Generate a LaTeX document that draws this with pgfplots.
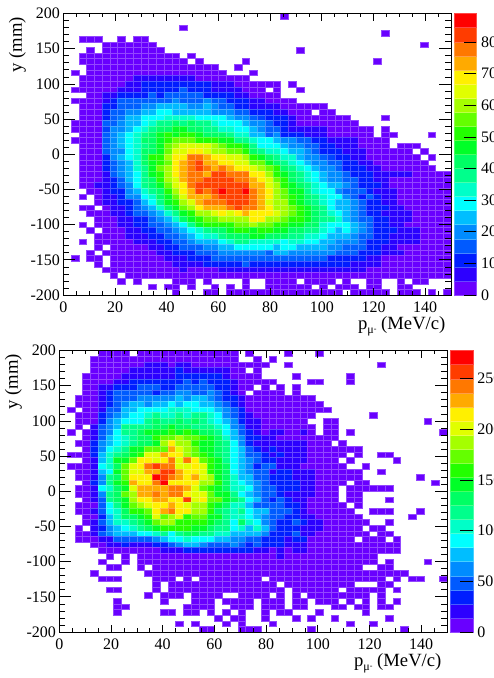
\documentclass[border=0pt]{standalone}
\usepackage{fontspec}
\setmainfont{Liberation Serif}
\usepackage{pgfplots}
\pgfplotsset{compat=1.18}
\usepackage{pgfplotstable}
\pgfdeclareplotmark{cell}{\pgfpathrectangle{\pgfqpoint{-2.91pt}{-2.11pt}}{\pgfqpoint{5.82pt}{4.22pt}}\pgfusepathqfillstroke}
\pgfdeclareplotmark{barcell}{\pgfpathrectangle{\pgfqpoint{-8.5pt}{-5.28pt}}{\pgfqpoint{17pt}{10.56pt}}\pgfusepathqfillstroke}
\pgfplotsset{
  colormap={rootp}{rgb255=(105,0,255) rgb255=(45,0,255) rgb255=(0,30,255) rgb255=(0,90,255) rgb255=(0,140,255) rgb255=(0,190,255) rgb255=(0,255,255) rgb255=(0,255,200) rgb255=(0,255,140) rgb255=(0,255,100) rgb255=(0,255,40) rgb255=(35,255,0) rgb255=(100,255,0) rgb255=(165,255,0) rgb255=(225,255,0) rgb255=(255,240,0) rgb255=(255,170,0) rgb255=(255,120,0) rgb255=(255,60,0) rgb255=(255,0,0)},
  colormap name=rootp,
  frame/.style={scale only axis, width=290.8pt, height=211.1pt, xmin=0, xmax=150, ymin=-200, ymax=200,
    tick align=inside, axis line style={line width=0.6pt},
    tick style={black, line width=0.5pt},
    tick label style={font=\fontsize{12}{12}\selectfont},
    /pgf/number format/assume math mode=true, /pgf/number format/1000 sep={}},
  hist/.style={frame, hide axis},
  xframe/.style={frame, xtick distance=20, minor x tick num=3, ytick=\empty, major tick length=5.5pt, minor tick length=2.8pt,
    xticklabel style={yshift=-1.5pt},
    every axis x label/.style={at={(rel axis cs:1,0)}, anchor=base east, yshift=-26pt, xshift=-0.7pt, font=\fontsize{14}{14}\selectfont}},
  yframe/.style={frame, ytick distance=50, minor y tick num=4, xtick=\empty, major tick length=9pt, minor tick length=4.5pt,
    yticklabel style={xshift=1pt},
    every axis y label/.style={at={(rel axis cs:0,1)}, rotate=90, anchor=base east, yshift=31pt, xshift=0.8pt, font=\fontsize{14}{14}\selectfont}},
  cells/.style={scatter, only marks, mark=cell, forget plot, line width=0.25pt, point meta=explicit,
    scatter/use mapped color={draw=mapped color!72!white, fill=mapped color}},
  cbarfill/.style={scale only axis, width=17pt, xmin=0, xmax=1, height=211.1pt, ymin=0, hide axis,
    point meta min=0, point meta max=19},
  cbarticks/.style={scale only axis, width=17pt, xmin=0, xmax=1, height=211.1pt, ymin=0,
    xtick=\empty, ytick pos=right, tick align=inside, minor tick num=0, major tick length=9.5pt,
    axis line style={opacity=0}, tick style={black, opacity=1, line width=0.5pt},
    tick label style={font=\fontsize{12}{12}\selectfont, opacity=1},
    /pgf/number format/assume math mode=true}
}
\pgfplotstableread[header=false]{
196  0 0 0 0 0 0 0 0 0 0  0 0 0 0 0 0 0 0 0 0  0 0 0 0 0 0 0 0 2 0  0 0 0 0 0 0 0 0 0 0  0 0 0 0 0 0 0 0 0 0
180  0 0 0 0 0 0 0 0 0 0  0 0 0 0 0 2 0 0 0 0  0 0 0 0 0 0 0 0 0 0  0 0 0 0 0 0 0 0 0 0  0 0 0 0 0 0 0 0 0 0
172  0 0 0 0 0 0 0 0 0 0  0 0 0 0 0 0 0 0 0 0  0 0 0 0 0 0 0 0 0 0  0 0 0 0 0 0 0 0 0 0  0 2 0 0 0 0 0 0 0 0
164  0 0 2 2 2 0 0 2 0 2  2 0 0 0 0 0 0 0 0 0  0 0 0 0 0 0 0 0 0 0  0 0 0 0 0 0 0 0 0 0  0 0 0 0 0 0 0 0 0 0
156  0 0 0 0 0 2 2 2 2 2  2 2 0 0 0 0 0 0 0 0  0 0 0 0 0 0 0 0 0 0  0 0 0 0 0 0 0 0 0 0  0 0 0 0 0 0 2 0 0 0
148  0 0 0 2 0 2 2 2 2 2  2 2 2 0 0 0 0 0 0 0  0 0 0 0 0 0 0 0 0 0  2 0 0 0 0 0 0 0 0 0  0 0 0 0 0 0 0 0 0 0
140  0 0 2 2 2 2 2 2 2 2  2 2 2 2 2 0 2 0 0 0  0 0 0 0 0 0 0 0 0 0  0 0 0 0 0 0 0 0 0 0  0 0 0 0 0 0 0 0 0 0
132  0 0 2 2 2 2 2 2 2 2  2 2 2 2 2 2 0 2 0 0  0 0 0 2 0 0 0 0 0 0  0 0 0 0 0 0 0 0 0 0  2 0 0 0 0 0 0 0 0 0
124  0 0 0 2 2 2 2 2 2 2  2 2 2 2 2 2 2 2 2 2  0 0 2 0 0 0 0 0 0 0  0 0 0 0 0 0 0 0 0 0  0 0 0 0 0 0 0 0 0 0
116  0 2 0 2 2 2 2 2 2 2  2 2 2 2 2 2 2 2 2 2  2 0 0 0 2 0 0 0 0 0  0 0 0 0 0 0 0 0 0 0  0 0 0 0 0 0 0 0 0 0
108  0 0 2 2 2 2 2 2 2 7  7 7 7 7 7 7 7 2 2 2  2 2 2 2 0 0 0 0 0 0  0 0 0 0 0 0 0 0 0 0  0 0 0 0 0 0 0 0 0 0
100  0 0 2 2 2 2 2 2 7 7  11 11 11 11 11 11 11 11 11 7  7 7 2 2 2 2 2 2 0 2  0 0 0 0 0 0 0 0 0 0  0 0 0 0 0 0 0 0 0 0
92  0 2 2 2 2 2 2 7 7 7  11 11 11 11 11 16 11 11 11 7  7 7 7 2 2 2 0 2 0 0  2 0 0 0 0 0 0 0 0 0  0 0 0 0 0 0 0 0 0 0
84  0 0 0 2 2 7 7 11 11 11  11 16 11 16 16 16 16 16 11 11  11 11 7 7 2 2 2 2 0 0  0 0 0 0 0 0 0 0 0 0  0 0 0 0 0 0 0 0 0 0
76  0 2 2 2 2 7 11 16 16 16  16 16 16 16 20 16 16 16 20 16  16 11 11 11 7 7 2 2 2 2  0 0 0 0 0 0 0 0 0 0  0 0 0 0 0 0 0 0 0 0
68  0 0 2 2 2 11 11 16 16 16  20 20 24 24 24 24 20 20 24 20  16 16 11 11 7 7 7 7 2 2  2 2 2 2 0 0 0 0 0 0  0 0 0 0 0 0 0 0 0 0
60  0 0 2 2 2 11 16 16 20 20  24 24 29 29 24 24 24 24 24 20  20 20 16 16 11 11 11 7 7 2  2 2 0 2 2 0 0 0 0 0  0 0 0 0 0 0 0 0 0 0
52  0 0 2 2 2 11 16 18 24 24  29 29 29 33 33 33 33 29 29 29  29 24 20 20 16 14 11 11 11 7  2 2 2 2 2 2 2 0 0 0  0 2 0 0 0 0 0 0 0 0
44  0 2 2 2 2 16 16 20 24 24  29 33 38 38 42 38 42 38 38 33  29 29 29 24 20 20 16 11 11 7  2 2 2 2 2 2 2 2 0 0  0 0 0 0 0 0 0 0 0 0
36  0 2 2 2 2 14 20 20 24 29  33 38 42 42 47 47 42 42 38 38  33 33 29 29 24 20 16 16 11 7  7 7 7 7 2 2 2 2 2 2  0 2 0 0 0 0 0 0 0 0
28  0 0 2 2 2 16 20 24 29 33  38 42 47 51 47 51 51 47 42 42  42 38 33 33 24 24 16 20 11 11  11 7 7 7 2 2 2 2 2 2  0 2 2 0 0 0 0 2 0 0
20  0 2 2 2 2 16 20 24 29 33  42 42 47 51 56 56 56 51 51 51  47 47 38 38 33 29 29 24 20 20  16 16 11 11 7 7 7 7 2 2  2 2 0 0 0 0 0 0 0 0
12  0 0 2 2 2 16 20 24 29 33  38 42 47 56 60 64 64 64 64 60  56 51 51 47 38 29 29 29 24 20  20 16 16 11 11 7 7 7 2 2  2 2 0 2 2 2 0 0 0 0
4  0 0 2 2 2 16 20 20 29 33  42 42 47 56 64 64 69 69 64 60  60 56 56 51 42 38 33 33 29 24  24 20 16 11 11 11 7 7 7 2  2 2 2 2 2 0 2 0 0 0
-4  0 0 2 2 2 11 20 24 29 33  42 51 51 60 69 69 78 78 73 69  69 64 64 60 51 47 42 38 33 33  24 20 20 16 14 11 11 7 7 2  2 2 2 2 2 2 0 2 0 0
-12  0 0 2 2 2 11 16 20 24 33  42 47 51 56 69 73 78 82 73 73  69 69 64 64 56 56 47 42 38 33  29 24 20 20 16 16 11 11 7 7  2 2 2 2 2 2 2 0 0 0
-20  0 0 2 2 2 11 16 20 24 33  38 47 56 60 69 73 78 82 78 73  78 73 69 69 64 60 56 51 42 38  33 29 24 20 20 16 11 11 11 7  7 2 2 2 2 2 2 2 0 0
-28  0 0 2 2 2 7 16 20 24 29  38 47 51 60 69 73 78 78 73 82  82 78 78 78 69 69 60 51 47 42  38 33 29 24 20 20 16 11 11 11  7 7 7 7 7 2 2 2 2 2
-36  0 0 2 2 2 7 11 16 24 29  38 42 51 60 64 73 78 78 82 82  82 82 78 78 73 69 64 56 51 42  38 33 29 24 20 20 16 16 11 11  7 7 2 2 2 2 2 2 2 2
-44  0 0 2 2 7 7 11 16 20 29  38 42 47 56 64 69 78 82 82 82  82 82 82 82 73 73 64 60 51 47  42 38 33 29 24 24 20 16 11 11  11 7 2 2 2 2 2 2 2 2
-52  0 0 0 2 2 7 11 11 20 24  33 38 42 51 60 69 73 82 78 82  87 82 82 87 78 73 69 60 56 47  47 38 33 29 29 20 16 16 16 11  7 7 7 2 2 2 2 2 2 2
-60  0 0 2 0 2 7 7 11 20 20  29 33 42 47 56 64 73 73 73 78  82 82 82 82 78 73 69 60 56 51  47 42 38 33 29 29 20 16 11 16  11 7 7 2 2 2 2 2 2 2
-68  0 0 0 0 2 7 7 11 11 16  24 29 38 47 51 60 64 73 78 78  78 82 82 82 78 73 64 60 60 51  47 42 38 33 29 24 24 20 16 11  11 7 7 2 2 2 2 2 2 2
-76  0 0 2 2 0 2 7 7 11 16  20 24 33 42 47 56 60 69 73 73  73 78 82 78 78 73 69 60 60 56  51 47 42 38 29 24 24 20 16 11  11 11 7 7 2 2 2 2 2 2
-84  0 0 0 2 2 2 7 7 11 16  16 20 24 33 38 47 51 60 60 64  69 64 69 73 69 69 69 64 60 56  51 47 42 38 33 29 24 20 16 11  11 7 7 7 7 2 2 2 2 2
-92  0 0 0 0 2 2 2 7 7 11  11 16 20 24 33 42 47 51 56 56  60 60 60 60 69 69 60 60 56 51  51 47 42 38 38 33 24 20 16 16  11 11 7 7 7 2 2 2 2 2
-100  0 0 2 0 2 2 2 7 7 11  11 16 16 20 24 29 38 47 51 51  51 51 56 56 60 56 56 51 51 47  47 42 42 33 29 29 29 24 20 16  11 11 7 7 2 2 2 2 2 2
-108  0 0 0 2 0 2 2 2 7 7  11 11 16 16 20 24 29 33 38 42  42 47 51 51 47 51 51 47 47 42  42 38 38 33 29 24 29 24 20 16  11 11 11 7 7 7 2 2 2 2
-116  0 0 0 0 2 2 2 2 7 7  7 11 11 16 16 20 24 29 33 33  38 42 42 42 47 47 42 42 42 38  38 33 33 29 24 24 24 20 16 16  11 11 7 7 7 7 2 2 2 2
-124  0 0 2 0 2 2 2 2 2 7  7 7 11 11 16 16 20 24 24 24  29 33 38 38 33 33 33 33 29 33  33 29 29 24 24 20 20 20 16 11  11 11 7 7 7 7 2 2 2 2
-132  0 0 0 0 2 0 2 2 2 2  2 7 7 11 11 16 16 16 20 20  24 24 29 29 29 29 29 24 29 29  24 24 24 24 20 20 16 16 16 11  11 7 7 2 2 2 2 2 2 2
-140  0 0 0 2 0 2 2 2 2 2  2 2 7 7 11 11 11 16 16 16  20 20 20 20 20 20 16 24 24 20  20 20 20 20 20 16 16 16 11 11  11 7 7 7 2 2 2 2 2 2
-148  0 2 0 2 2 0 2 2 2 2  2 2 2 7 7 7 11 11 11 16  16 16 16 16 16 16 16 16 16 16  16 16 16 16 11 11 11 11 11 7  7 2 2 2 2 2 2 2 2 2
-156  0 0 0 0 2 0 2 2 2 2  2 2 2 2 7 7 7 7 11 11  11 11 11 16 11 11 11 11 11 11  11 11 11 11 11 11 11 7 7 7  7 2 2 2 2 2 2 2 2 2
-164  0 0 0 0 0 2 2 2 2 2  2 2 2 2 2 7 2 2 2 2  7 7 7 7 7 7 7 7 7 7  7 7 7 7 7 7 7 7 7 2  2 2 2 2 2 2 2 2 2 2
-172  0 0 0 0 0 0 2 0 2 2  2 2 2 2 2 2 2 2 2 2  2 2 2 2 2 2 2 2 2 2  2 2 2 2 2 2 2 2 2 2  2 2 2 2 2 2 2 2 2 2
-180  0 0 0 0 0 0 0 2 0 2  0 0 0 0 2 2 2 0 2 0  0 0 0 2 0 0 2 2 2 2  0 2 2 2 2 0 2 0 0 2  2 0 0 2 0 2 2 0 0 0
-188  0 0 0 0 0 0 0 0 0 0  0 2 0 2 2 0 2 0 0 2  0 2 0 2 0 0 2 2 2 2  2 2 0 2 0 2 2 2 0 2  2 0 0 2 2 0 0 0 0 0
-196  0 0 0 0 0 0 0 0 0 0  0 0 0 0 2 0 0 0 2 2  0 2 2 2 2 2 2 2 2 2  2 2 2 2 2 2 0 2 2 2  2 2 0 2 2 2 0 2 0 2
}\tabA
\pgfplotstableread[header=false]{
196  0 0 0 0 0 7 7 7 7 0  7 7 7 7 7 7 7 7 7 7  7 7 7 0 7 0 0 0 0 7  0 0 0 7 0 0 0 0 0 0  0 0 0 0 0 0 0 0 0 0
188  0 0 0 0 7 7 7 7 7 7  7 7 7 7 7 7 7 7 7 7  7 7 7 0 0 7 0 7 0 0  0 0 0 0 0 0 0 0 0 0  0 0 0 0 0 0 0 0 0 0
180  0 0 0 0 7 7 7 7 7 7  7 21 21 21 7 21 21 7 7 7  7 7 7 7 7 7 7 0 0 7  0 0 0 0 0 0 0 0 0 0  0 7 0 0 0 0 0 0 0 0
172  0 0 0 0 7 7 7 7 7 21  21 21 21 21 21 35 21 21 21 21  21 21 7 7 0 7 0 0 0 0  0 0 0 0 0 0 0 0 0 0  0 0 0 0 0 0 0 0 0 0
164  0 0 0 7 7 7 7 7 21 21  21 21 21 21 21 35 35 35 35 35  35 21 7 7 7 7 0 0 0 0  7 0 0 0 0 0 0 7 0 0  0 0 0 0 0 0 0 0 0 0
156  0 0 0 7 7 7 7 21 21 35  35 35 35 35 35 35 49 35 49 35  35 35 21 7 7 7 7 7 0 0  0 0 7 7 0 0 0 7 0 0  0 0 0 0 0 0 0 0 0 0
148  0 0 0 7 7 21 21 35 35 35  49 49 49 35 35 49 49 49 49 49  35 35 21 7 7 0 7 0 7 0  7 0 0 0 0 0 0 0 0 0  0 0 0 0 0 0 0 0 0 0
140  0 0 0 7 7 21 35 49 49 49  49 49 35 49 49 62 62 49 49 62  49 35 21 7 0 7 7 7 7 0  7 0 0 0 0 0 0 0 0 0  0 0 0 0 0 0 0 0 0 0
132  0 0 7 7 7 21 35 49 49 49  62 62 62 62 62 76 62 76 76 62  49 35 35 21 7 7 7 7 7 7  7 7 7 0 0 0 0 0 0 0  0 0 0 0 0 0 0 0 0 0
124  0 0 7 7 7 21 35 49 62 76  76 62 76 76 90 76 90 90 76 76  62 49 35 21 7 7 7 7 7 7  7 7 7 7 0 0 0 0 0 0  0 0 0 0 0 0 0 0 0 0
116  0 7 0 7 7 21 49 49 76 76  90 90 90 90 104 104 104 90 90 90  76 62 49 35 7 7 7 7 7 7  7 7 7 7 7 0 0 0 0 0  0 0 0 0 0 0 0 0 0 0
108  0 0 7 7 7 35 49 62 76 90  90 104 118 104 104 118 104 118 118 104  90 62 49 35 21 7 7 7 7 7  7 7 7 0 0 0 0 0 0 0  7 0 0 0 0 0 0 0 0 0
100  0 0 7 7 7 35 62 76 90 90  90 118 132 118 118 132 118 132 118 104  90 76 62 35 21 21 7 7 7 7  7 7 0 0 7 7 0 0 0 0  0 0 0 0 0 0 0 7 0 0
92  0 0 7 0 21 49 62 76 118 118  118 118 132 132 146 132 132 118 118 118  104 90 62 49 21 21 7 7 7 7  7 7 7 0 7 7 0 0 0 0  0 0 0 0 0 0 0 0 0 0
84  0 7 0 7 21 49 62 90 118 118  132 146 146 146 160 146 160 146 132 132  118 90 76 49 35 21 7 21 21 7  7 21 7 0 7 7 0 7 0 0  0 0 0 0 0 0 0 0 0 7
76  0 0 0 7 21 49 76 90 104 118  132 132 160 173 173 187 173 173 160 146  132 104 76 62 35 35 21 21 7 7  7 7 7 7 7 7 0 0 0 0  0 0 0 0 0 0 0 0 0 0
68  0 0 7 7 35 62 76 90 104 118  132 132 146 187 215 187 187 160 146 146  132 118 90 62 35 21 21 21 21 21  21 21 7 7 7 0 7 0 0 0  0 0 0 0 0 0 0 0 0 0
60  0 0 0 7 35 62 90 104 118 146  146 173 173 173 229 201 187 173 146 146  132 118 90 76 49 35 21 35 21 21  21 21 7 7 7 7 7 7 7 0  0 0 0 0 0 0 0 0 0 0
52  0 7 7 7 35 76 104 118 132 146  160 201 201 229 215 215 187 173 160 146  132 118 90 76 49 49 35 21 35 21  21 21 7 7 7 7 7 0 7 0  0 7 7 0 0 0 0 0 0 0
44  0 0 0 7 21 76 104 146 146 173  215 215 201 215 243 201 243 215 173 160  146 118 90 76 62 49 35 35 21 21  21 21 7 7 7 7 0 7 0 0  0 0 0 7 0 0 0 0 0 0
36  0 7 7 7 21 90 104 132 173 201  215 243 257 243 243 201 201 215 201 160  146 132 90 76 62 35 49 49 21 21  21 7 7 7 7 7 7 0 0 7  0 0 0 0 0 0 0 0 0 0
28  0 0 7 7 21 76 90 146 173 201  201 229 229 257 257 229 215 215 201 160  146 132 90 76 62 49 49 21 35 35  21 21 21 7 7 7 7 7 7 0  0 7 0 0 0 0 0 0 0 0
20  0 0 7 7 21 62 118 132 173 215  215 215 271 257 243 229 215 229 201 187  146 132 104 76 76 49 49 35 35 35  21 21 21 7 7 7 7 7 7 0  0 0 0 0 0 0 7 0 0 0
12  0 0 0 7 35 62 118 146 160 229  215 215 243 271 215 215 215 215 187 187  160 132 104 90 76 62 49 35 35 35  35 21 21 7 7 7 7 0 7 7  0 0 0 0 0 0 0 0 7 0
4  0 0 7 7 21 90 104 132 146 201  229 229 229 229 243 243 229 201 173 160  146 132 104 104 90 62 49 49 35 35  35 21 21 7 7 7 0 7 7 7  7 7 7 0 0 0 0 0 0 0
-4  0 0 7 7 21 62 118 132 173 187  229 229 243 229 243 243 215 201 201 173  146 146 118 90 76 62 49 49 35 21  21 21 21 7 7 7 0 7 7 0  0 0 0 0 0 0 0 0 0 0
-12  0 0 0 7 21 49 118 132 146 187  215 215 229 229 215 215 257 201 215 173  173 146 132 118 90 76 49 35 49 35  21 21 7 7 7 7 0 7 7 0  0 0 7 0 0 0 0 0 0 0
-20  0 0 7 7 7 49 90 118 146 173  187 201 215 215 229 215 201 187 187 160  146 132 104 104 76 49 49 49 49 35  35 21 7 7 7 7 7 0 7 0  0 0 0 0 0 0 0 0 0 0
-28  0 0 7 7 21 49 90 104 132 160  160 173 215 229 243 215 215 187 187 160  132 118 104 118 90 76 76 49 49 49  35 21 7 7 7 7 7 7 0 0  7 7 7 0 0 0 7 0 0 0
-36  0 0 0 7 7 35 76 104 132 132  146 160 201 173 187 201 160 173 173 146  146 118 104 104 90 76 62 49 49 35  35 21 21 7 7 7 7 7 7 0  0 0 0 0 0 7 0 0 0 0
-44  0 0 0 7 21 49 76 104 104 118  132 146 173 187 187 160 160 160 160 146  132 118 90 132 104 90 62 49 35 35  49 35 21 21 7 7 7 7 7 7  0 0 7 0 0 0 0 0 0 0
-52  0 0 7 0 21 35 62 76 90 104  118 132 146 160 160 160 160 146 146 132  118 118 90 104 76 104 76 49 35 35  35 21 21 21 7 7 7 7 7 0  7 7 0 0 0 0 0 0 0 0
-60  0 0 7 7 21 49 62 76 76 76  90 90 104 118 90 118 132 132 118 118  104 104 76 76 76 76 62 35 35 35  49 21 21 7 7 7 7 7 7 7  0 7 7 0 0 0 0 0 0 0
-68  0 0 7 7 7 21 21 49 49 49  49 49 62 76 90 90 104 90 90 90  76 76 62 62 49 49 35 35 35 21  35 35 7 7 7 7 7 7 0 7  7 7 0 7 0 0 0 0 0 0
-76  0 0 0 0 7 7 21 21 35 21  21 21 35 35 49 62 76 76 62 49  49 49 62 49 35 49 35 35 35 21  21 21 7 7 7 7 7 7 7 7  7 7 7 7 0 0 0 0 0 0
-84  0 0 0 0 0 7 7 7 7 7  7 7 7 21 21 21 35 35 35 35  35 35 35 35 35 21 21 7 21 7  21 21 7 7 7 7 7 7 7 7  7 7 7 7 0 0 0 0 0 0
-92  0 0 0 0 0 0 7 0 7 0  7 7 7 7 7 7 7 7 7 7  7 7 7 7 7 7 7 7 21 7  7 7 7 7 7 7 7 7 7 7  7 0 0 0 0 0 0 0 0 0
-100  0 0 0 0 0 7 0 0 7 0  7 7 7 7 7 7 7 7 7 7  7 7 7 7 7 7 7 7 7 7  7 7 7 7 7 7 7 7 7 7  7 0 7 0 0 0 0 7 0 0
-108  0 0 0 0 0 0 7 7 0 0  7 0 7 7 7 7 7 7 7 7  7 7 7 7 7 7 7 7 7 7  7 7 7 7 7 7 7 7 7 0  0 7 7 0 0 0 0 0 0 0
-116  0 0 0 0 7 0 0 0 0 0  0 7 7 7 7 7 7 7 7 7  7 7 7 7 7 7 7 7 7 7  7 7 7 7 7 7 7 7 7 7  7 7 7 7 7 0 0 0 0 0
-124  0 0 0 0 0 7 7 7 0 0  0 0 7 7 7 0 7 0 7 7  7 7 7 7 7 7 0 7 7 7  7 7 7 7 7 7 7 7 7 7  7 7 0 7 0 7 7 0 0 7
-132  0 0 0 0 0 0 0 0 0 0  0 0 7 0 7 7 7 7 7 7  7 7 7 7 7 7 7 7 0 7  7 7 7 7 7 7 7 7 0 0  0 7 7 0 0 0 0 0 0 0
-140  0 0 0 0 0 0 7 7 0 0  0 0 7 0 7 7 7 7 7 7  7 7 7 7 7 7 7 7 7 0  7 7 7 7 7 7 0 7 7 7  7 7 0 7 0 0 0 0 0 0
-148  0 0 0 0 0 0 0 0 0 0  0 7 0 7 7 7 0 7 7 7  7 0 0 7 7 7 7 0 7 0  7 0 7 7 7 7 7 7 7 7  0 7 0 0 0 0 0 0 0 0
-156  0 0 0 0 0 0 0 7 0 0  0 0 0 7 0 0 0 7 7 7  0 7 7 7 7 0 7 7 7 0  7 7 0 7 7 7 0 7 0 7  0 7 0 7 0 0 0 0 0 0
-164  0 0 0 0 0 0 0 7 7 0  0 0 0 0 0 0 7 7 7 7  0 0 7 7 7 0 7 7 7 0  7 7 0 0 0 7 7 0 7 7  0 7 7 0 0 0 0 0 0 0
-172  0 0 0 0 0 0 0 7 0 0  0 0 0 7 7 0 7 7 0 7  0 7 0 7 0 0 7 0 7 7  0 0 0 7 0 0 0 0 0 7  0 0 0 0 0 0 0 0 0 0
-180  0 0 0 0 0 0 0 0 0 0  0 0 0 0 0 0 0 0 0 0  7 0 7 7 0 0 7 0 0 0  7 0 7 0 0 7 0 0 0 0  0 0 7 0 0 0 0 0 0 0
-188  0 0 0 0 0 0 0 0 0 0  0 0 0 0 0 7 0 7 0 0  0 7 0 7 0 0 0 7 0 0  0 0 0 0 0 0 0 7 0 0  7 0 0 0 0 0 0 0 0 0
-196  0 0 0 0 0 0 0 0 0 0  0 0 0 0 0 0 0 0 7 7  0 0 0 7 7 7 0 0 0 0  0 0 7 0 0 0 0 0 0 0  0 0 0 0 7 0 0 0 0 0
}\tabB
\begin{document}
\begin{tikzpicture}
\useasboundingbox (0,0) rectangle (369.75pt,508.5pt);
% top panel
\begin{axis}[hist, at={(47.5pt,287.25pt)}, anchor=south west, point meta min=2.225, point meta max=86.775]
\pgfplotsinvokeforeach{1,...,50}{
  \addplot[cells] table[x expr={3*#1-1.5}, y expr={\thisrowno{#1}>0 ? \thisrowno{0} : nan}, meta index=#1] {\tabA};
}
\end{axis}
\begin{axis}[xframe, at={(47.5pt,287.25pt)}, anchor=south west,
  xlabel={p\raisebox{-0.5ex}{\fontsize{9}{9}\selectfont μ\raisebox{0.4ex}{\fontsize{6}{6}\selectfont -}} (MeV/c)}]
\end{axis}
\begin{axis}[yframe, at={(47.5pt,287.25pt)}, anchor=south west, ylabel={y (mm)}]
\end{axis}
\begin{axis}[cbarfill, at={(340.25pt,287.25pt)}, anchor=south west, ymax=89]
\addplot[scatter, only marks, mark=barcell, line width=0.25pt, point meta=explicit,
  scatter/use mapped color={draw=mapped color!72!white, fill=mapped color}] coordinates {
  (0.5,2.225)[0] (0.5,6.675)[1] (0.5,11.125)[2] (0.5,15.575)[3] (0.5,20.025)[4]
  (0.5,24.475)[5] (0.5,28.925)[6] (0.5,33.375)[7] (0.5,37.825)[8] (0.5,42.275)[9]
  (0.5,46.725)[10] (0.5,51.175)[11] (0.5,55.625)[12] (0.5,60.075)[13] (0.5,64.525)[14]
  (0.5,68.975)[15] (0.5,73.425)[16] (0.5,77.875)[17] (0.5,82.325)[18] (0.5,86.775)[19]};
\end{axis}
\begin{axis}[cbarticks, at={(340.25pt,287.25pt)}, anchor=south west, ymax=89, ytick distance=10]
\end{axis}
% bottom panel
\begin{axis}[hist, at={(44.5pt,34.5pt)}, anchor=south west, point meta min=6.94, point meta max=270.66]
\pgfplotsinvokeforeach{1,...,50}{
  \addplot[cells] table[x expr={3*#1-1.5}, y expr={\thisrowno{#1}>0 ? \thisrowno{0} : nan}, meta index=#1] {\tabB};
}
\end{axis}
\begin{axis}[xframe, at={(44.5pt,34.5pt)}, anchor=south west,
  xlabel={p\raisebox{-0.5ex}{\fontsize{9}{9}\selectfont μ\raisebox{0.4ex}{\fontsize{6}{6}\selectfont -}} (MeV/c)}]
\end{axis}
\begin{axis}[yframe, at={(44.5pt,34.5pt)}, anchor=south west, ylabel={y (mm)}]
\end{axis}
\begin{axis}[cbarfill, at={(337.5pt,34.5pt)}, anchor=south west, ymax=277.6]
\addplot[scatter, only marks, mark=barcell, line width=0.25pt, point meta=explicit,
  scatter/use mapped color={draw=mapped color!72!white, fill=mapped color}] coordinates {
  (0.5,6.94)[0] (0.5,20.82)[1] (0.5,34.7)[2] (0.5,48.58)[3] (0.5,62.46)[4]
  (0.5,76.34)[5] (0.5,90.22)[6] (0.5,104.1)[7] (0.5,117.98)[8] (0.5,131.86)[9]
  (0.5,145.74)[10] (0.5,159.62)[11] (0.5,173.5)[12] (0.5,187.38)[13] (0.5,201.26)[14]
  (0.5,215.14)[15] (0.5,229.02)[16] (0.5,242.9)[17] (0.5,256.78)[18] (0.5,270.66)[19]};
\end{axis}
\begin{axis}[cbarticks, at={(337.5pt,34.5pt)}, anchor=south west, ymax=277.6, ytick distance=50]
\end{axis}
\end{tikzpicture}
\end{document}
